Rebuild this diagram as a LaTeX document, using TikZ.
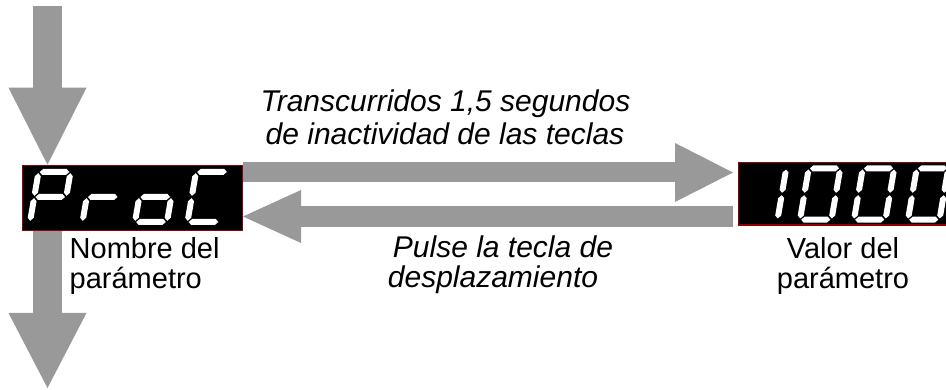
\documentclass[tikz,border=0pt]{standalone}
\usepackage{fontspec}
\setmainfont{Liberation Sans}
\usetikzlibrary{arrows.meta}
\definecolor{arrowgray}{HTML}{999999}
\definecolor{boxred}{HTML}{8B0000}
\def\dW{32}\def\dH{50}\def\dT{3.0}\def\dG{1.2}
\newcommand\hseg[1]{\fill[white] (\dG,#1) -- (\dG+\dT,#1+\dT) -- (\dW-\dG-\dT,#1+\dT) -- (\dW-\dG,#1) -- (\dW-\dG-\dT,#1-\dT) -- (\dG+\dT,#1-\dT) -- cycle;}
\newcommand\vseg[3]{\fill[white] (#1,#2+\dG) -- (#1+\dT,#2+\dG+\dT) -- (#1+\dT,#3-\dG-\dT) -- (#1,#3-\dG) -- (#1-\dT,#3-\dG-\dT) -- (#1-\dT,#2+\dG+\dT) -- cycle;}
\newcommand\segA{\hseg{\dH}}
\newcommand\segD{\hseg{0}}
\newcommand\segG{\hseg{\dH/2}}
\newcommand\segF{\vseg{0}{\dH/2}{\dH}}
\newcommand\segE{\vseg{0}{0}{\dH/2}}
\newcommand\segB{\vseg{\dW}{\dH/2}{\dH}}
\newcommand\segC{\vseg{\dW}{0}{\dH/2}}
\newcommand\sevdigit[3]{\begin{scope}[shift={(#1,#2)},xslant=0.17]#3\end{scope}}
\tikzset{
  dispbox/.style={draw=boxred, line width=1.3pt, fill=black, inner sep=0pt, anchor=south west},
  fatarrow/.style={draw=arrowgray, line width=#1},
  ital/.style={font=\fontsize{30}{33}\selectfont\itshape, inner sep=0pt},
  lbl/.style={font=\fontsize{29}{32}\selectfont, inner sep=0pt},
}
\begin{document}
\begin{tikzpicture}[x=1pt,y=1pt]
\useasboundingbox (0,0) rectangle (946,390);
\clip (0,0) rectangle (946,390);
% displays
\node[dispbox, minimum width=220pt, minimum height=65pt] (pname) at (21.7,159) {};
\node[dispbox, minimum width=230pt, minimum height=62.7pt] (pval) at (737.7,164.3) {};
% ProC
\sevdigit{30}{168}{\segA\segB\segE\segF\segG}
\sevdigit{82.5}{168}{\segE\segG}
\sevdigit{135}{168}{\segC\segD\segE\segG}
\sevdigit{187.5}{168}{\segA\segD\segE\segF}
% 1000
\def\dW{31.5}\def\dH{51.4}
\sevdigit{746}{170.3}{\segB\segC}
\sevdigit{800}{170.3}{\segA\segB\segC\segD\segE\segF}
\sevdigit{854}{170.3}{\segA\segB\segC\segD\segE\segF}
\sevdigit{908}{170.3}{\segA\segB\segC\segD\segE\segF}
% arrows
\coordinate (topin) at (47.5,384);
\coordinate (botout) at (47.5,2);
\draw[fatarrow=29pt, -{Triangle[length=77pt 0 0, width=78pt 0 0, line width=0pt, fill=arrowgray]}] (topin) -- (topin |- pname.north);
\draw[fatarrow=29pt, -{Triangle[length=75pt 0 0, width=78pt 0 0, line width=0pt, fill=arrowgray]}] (botout |- pname.south) -- (botout);
\draw[fatarrow=20pt, -{Triangle[length=58pt 0 0, width=59pt 0 0, line width=0pt, fill=arrowgray]}] (pname.east |- 0,217.5) -- ([xshift=-4.7pt]pval.west |- 0,217.5);
\draw[fatarrow=21pt, -{Triangle[length=58pt 0 0, width=53pt 0 0, line width=0pt, fill=arrowgray]}] ([xshift=-4.7pt]pval.west |- 0,173.5) -- (pname.east |- 0,173.5);
% texts
\node[ital, anchor=base] (t1) at (445.5,278) {Transcurridos 1,5 segundos};
\node[ital, anchor=base] (t2) at (445,245) {de inactividad de las teclas};
\node[ital, anchor=base] (t3) at (503,132) {Pulse la tecla de};
\node[ital, anchor=base] (t4) at (493,102) {desplazamiento};
\node[lbl, anchor=base west] (n1) at (69.5,131.7) {Nombre del};
\node[lbl, anchor=base west] (n2) at (69.5,101.7) {parámetro};
\node[lbl, anchor=base] (v1) at (843,131.7) {Valor del};
\node[lbl, anchor=base] (v2) at (843,101.7) {parámetro};
\end{tikzpicture}
\end{document}
